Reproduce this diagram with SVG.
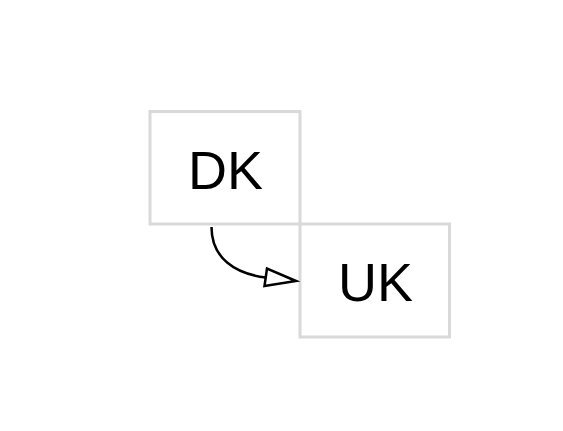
<svg xmlns="http://www.w3.org/2000/svg" width="563" height="431" viewBox="0 0 563 431">
<style>
.box{fill:none;stroke:#d9d9d9;stroke-width:3}
.lbl{font-family:"Liberation Sans",Arial,sans-serif;font-size:54px;fill:#000;text-anchor:middle}
.edge{fill:none;stroke:#000;stroke-width:2.5}
.head{fill:#fff;stroke:#000;stroke-width:2.5;stroke-linejoin:miter}
</style>
<rect width="563" height="431" fill="#fff"/>
<g id="node-DK">
<rect class="box" x="150" y="111.5" width="150" height="112.5"/>
<text class="lbl" x="225.5" y="189">DK</text>
</g>
<g id="node-UK">
<rect class="box" x="300" y="224" width="149.5" height="113"/>
<text class="lbl" x="375.5" y="301">UK</text>
</g>
<g id="connectors">
<path class="edge" d="M211.5,227 C211.5,258 235,274 266,277.5"/>
<polygon class="head" points="296,281 267,268.5 264.5,286"/>
</g>
</svg>
